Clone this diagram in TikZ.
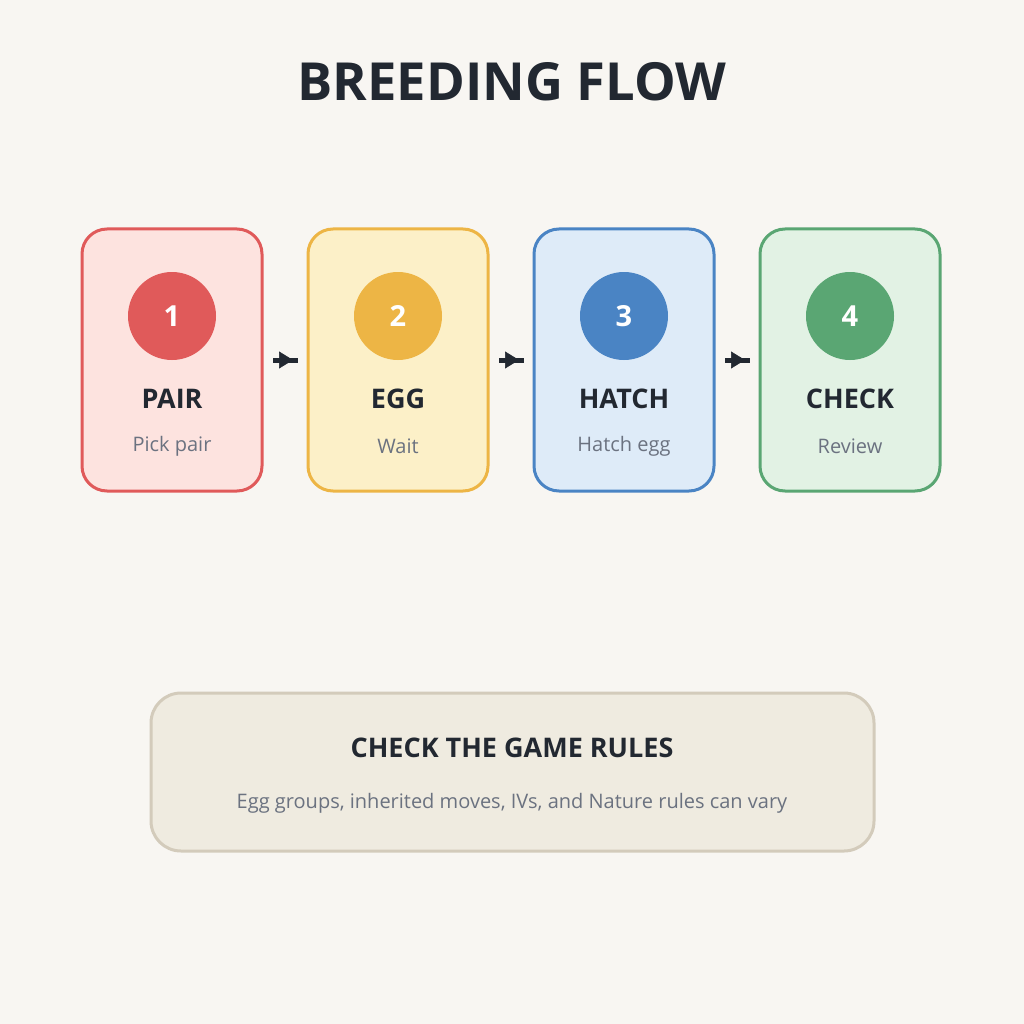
\documentclass[tikz,border=0pt]{standalone}
\usepackage{fontspec}
\setmainfont{Open Sans}
\usetikzlibrary{arrows.meta}
\definecolor{bg}{HTML}{F8F6F2}
\definecolor{ink}{HTML}{222831}
\definecolor{sub}{HTML}{6B7280}
\definecolor{rfill}{HTML}{FDE3DF}\definecolor{rline}{HTML}{E05A5A}
\definecolor{yfill}{HTML}{FCF0C8}\definecolor{yline}{HTML}{EDB545}
\definecolor{bfill}{HTML}{DEEBF8}\definecolor{bline}{HTML}{4A84C4}
\definecolor{gfill}{HTML}{E2F2E4}\definecolor{gline}{HTML}{5AA673}
\definecolor{nfill}{HTML}{EFEBE0}\definecolor{nline}{HTML}{D3CBBB}
\tikzset{
  card/.style={rectangle, rounded corners=25pt, minimum width=180pt, minimum height=262pt, line width=3pt, outer sep=0pt, inner sep=0pt},
  num/.style={circle, minimum size=88pt, inner sep=0pt, text=white, font=\fontsize{29}{30}\selectfont\bfseries},
  ctitle/.style={text=ink, font=\fontsize{27}{30}\selectfont\bfseries, inner sep=0pt},
  csub/.style={text=sub, font=\fontsize{20}{24}\selectfont, inner sep=0pt},
  shaft/.style={draw=ink, line width=5pt, shorten <=11pt, shorten >=10pt},
  tip/.style={draw=ink, line width=0.5pt, -{Triangle[length=14pt,width=17pt]}, shorten <=11pt, shorten >=15pt},
}
\begin{document}
\begin{tikzpicture}[x=1pt,y=-1pt]
\fill[bg] (0,0) rectangle (1024,1024);
\useasboundingbox (0,0) rectangle (1024,1024);
\node[text=ink, font=\fontsize{52.5}{60}\selectfont\bfseries] (title) at (512,82) {BREEDING FLOW};
% cards
\node[card, fill=rfill, draw=rline] (c1) at (172,360) {};
\node[card, fill=yfill, draw=yline] (c2) at (398,360) {};
\node[card, fill=bfill, draw=bline] (c3) at (624,360) {};
\node[card, fill=gfill, draw=gline] (c4) at (850,360) {};
\node[num, fill=rline] (n1) at (172,316) {1};
\node[num, fill=yline] (n2) at (398,316) {2};
\node[num, fill=bline] (n3) at (624,316) {3};
\node[num, fill=gline] (n4) at (850,316) {4};
\node[ctitle] (t1) at (172,399) {PAIR};
\node[ctitle] (t2) at (398,399) {EGG};
\node[ctitle] (t3) at (624,399) {HATCH};
\node[ctitle] (t4) at (850,399) {CHECK};
\node[csub] (s1) at (172,446) {Pick pair};
\node[csub] (s2) at (398,446) {Wait};
\node[csub] (s3) at (624,446) {Hatch egg};
\node[csub] (s4) at (850,446) {Review};
% arrows
\foreach \a/\b in {c1/c2,c2/c3,c3/c4}{
  \draw[shaft] (\a.east) -- (\b.west);
  \draw[tip] (\a.east) -- (\b.west);
}
% note
\node[rectangle, rounded corners=30pt, minimum width=723pt, minimum height=158pt, fill=nfill, draw=nline, line width=3pt] (note) at (512.5,772) {};
\node[ctitle] (nt) at (512,748) {CHECK THE GAME RULES};
\node[csub] (ns) at (512,803) {Egg groups, inherited moves, IVs, and Nature rules can vary};
\end{tikzpicture}
\end{document}
